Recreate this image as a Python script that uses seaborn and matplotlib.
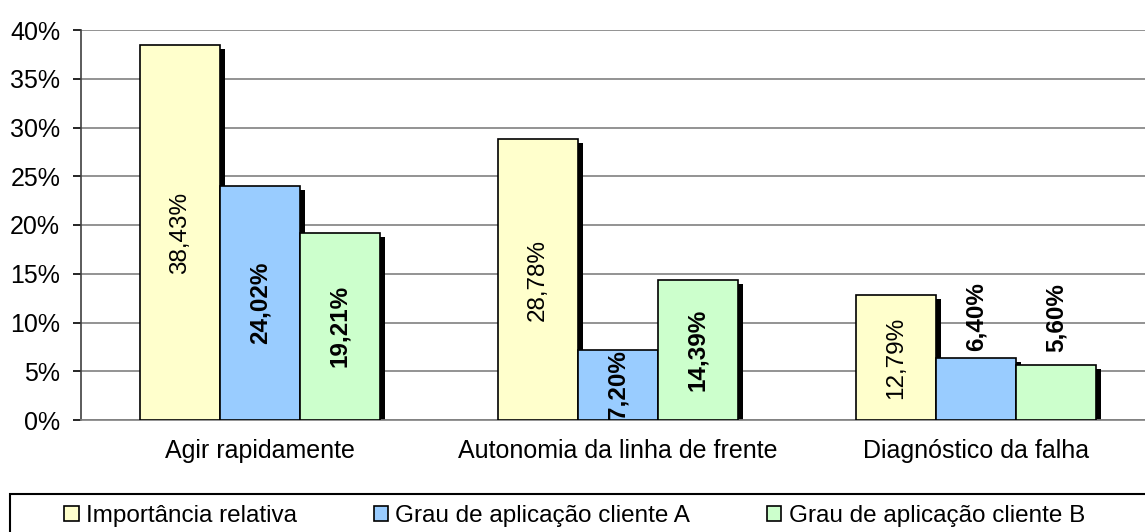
import matplotlib

matplotlib.use("Agg")

import matplotlib.pyplot as plt
import matplotlib.transforms as mtransforms
import pandas as pd
import seaborn as sns
from matplotlib.patches import Rectangle
from matplotlib.ticker import FuncFormatter, MultipleLocator

categories = ["Agir rapidamente", "Autonomia da linha de frente", "Diagnóstico da falha"]
series = ["Importância relativa", "Grau de aplicação cliente A", "Grau de aplicação cliente B"]
importancia = [38.43, 28.78, 12.79]
cliente_a = [24.02, 7.20, 6.40]
cliente_b = [19.21, 14.39, 5.60]
label_text = {
    series[0]: ["38,43%", "28,78%", "12,79%"],
    series[1]: ["24,02%", "7,20%", "6,40%"],
    series[2]: ["19,21%", "14,39%", "5,60%"],
}

COLORS = ["#ffffcc", "#99ccff", "#ccffcc"]
FONT = ["Liberation Sans", "DejaVu Sans"]

df = pd.DataFrame({
    "categoria": categories * 3,
    "serie": [s for s in series for _ in categories],
    "valor": importancia + cliente_a + cliente_b,
})

sns.set_style("white")
plt.rcParams["font.family"] = FONT
plt.rcParams.update({"text.color": "black", "xtick.color": "black",
                     "ytick.color": "black", "axes.labelcolor": "black"})

fig = plt.figure(figsize=(11.45, 5.32), dpi=100)
ax = fig.add_axes([81 / 1145, 112 / 532, 1074 / 1145, 390 / 532])

sns.barplot(data=df, x="categoria", y="valor", hue="serie", hue_order=series,
            palette=COLORS, saturation=1, width=0.67, edgecolor="black", linewidth=1.2,
            errorbar=None, ax=ax, legend=False, zorder=3)

# black drop shadow behind each bar (offset right/down, clipped at the baseline)
shift = ax.transData + mtransforms.ScaledTranslation(5 / 100, -4 / 100, fig.dpi_scale_trans)
for bar in list(ax.patches):
    ax.add_patch(Rectangle(bar.get_xy(), bar.get_width(), bar.get_height(),
                           facecolor="black", edgecolor="none", transform=shift, zorder=2))

# value labels, rotated like the original
for i, s in enumerate(series):
    container = ax.containers[i]
    for bar, txt in zip(container, label_text[s]):
        h = bar.get_height()
        xc = bar.get_x() + bar.get_width() / 2
        weight = "normal" if i == 0 else "bold"
        if h >= 7:
            ax.text(xc, h / 2, txt, rotation=90, ha="center", va="center",
                    fontsize=17.5, fontweight=weight, zorder=5)
        else:
            off = 5 if h > 6 else 10
            ax.annotate(txt, (xc, h), xytext=(0, off), textcoords="offset points",
                        rotation=90, ha="center", va="bottom",
                        fontsize=17.5, fontweight=weight, zorder=5)

ax.set_xlim(-0.5, 2.5)
ax.set_ylim(0, 40)
ax.yaxis.set_major_locator(MultipleLocator(5))
ax.yaxis.set_major_formatter(FuncFormatter(lambda v, _: f"{v:.0f}%"))
ax.grid(axis="y", color="#808080", linewidth=1.2, zorder=0)
ax.set_axisbelow(True)
ax.set_xlabel("")
ax.set_ylabel("")

ax.set_xticks([0.5, 1.5, 2.5], minor=True)
ax.tick_params(axis="x", which="major", length=0, pad=14, labelsize=18)
ax.tick_params(axis="x", which="minor", length=6, width=1.2, color="#808080", direction="out")
ax.tick_params(axis="y", length=6, width=1.2, color="black", direction="out", pad=9, labelsize=18)
ax.tick_params(axis="y", left=True)

for side in ["top", "right"]:
    ax.spines[side].set_visible(False)
ax.spines["left"].set_color("#404040")
ax.spines["left"].set_linewidth(1.2)
ax.spines["bottom"].set_color("#808080")
ax.spines["bottom"].set_linewidth(1.2)

# legend at the bottom in its own box
handles = [Rectangle((0, 0), 1, 1, facecolor=c, edgecolor="black", linewidth=1.2) for c in COLORS]
fig.legend(handles, series, loc="center left", bbox_to_anchor=(52 / 1145, 1 - 516 / 532),
           ncol=3, frameon=False, fontsize=17.5, handlelength=0.6, handleheight=0.6,
           handletextpad=0.3, columnspacing=3.15, borderpad=0)
fig.add_artist(Rectangle((10 / 1145, -0.05), 1.1, (532 - 494) / 532 + 0.05,
                         transform=fig.transFigure, facecolor="none",
                         edgecolor="black", linewidth=1.5))

fig.savefig("out.png", dpi=100)
